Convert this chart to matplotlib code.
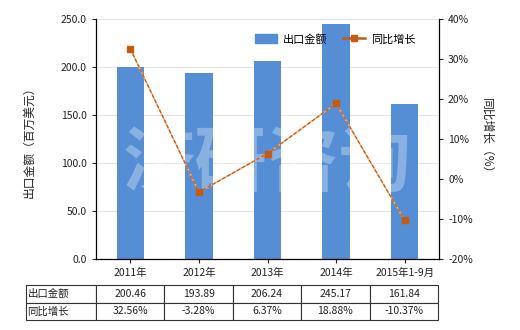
import matplotlib
matplotlib.use("Agg")
import matplotlib.pyplot as plt
from matplotlib.patches import Patch
from matplotlib.lines import Line2D

plt.rcParams['font.family'] = ['Noto Sans CJK SC', 'DejaVu Sans']

categories = ["2011年", "2012年", "2013年", "2014年", "2015年1-9月"]
export_value = [200.46, 193.89, 206.24, 245.17, 161.84]
yoy_growth = [32.56, -3.28, 6.37, 18.88, -10.37]
left_ticks = [0, 50, 100, 150, 200, 250]
right_ticks = [-20, -10, 0, 10, 20, 30, 40]

bar_color = "#558ED5"
line_color = "#C55A11"
line_light = "#F4B183"
text_color = "#222222"

fig = plt.figure(figsize=(5.2, 3.3), dpi=100)
ax = fig.add_axes([96 / 520, 1 - 259 / 330, 343 / 520, 240 / 330])
ax2 = ax.twinx()

x = list(range(len(categories)))
ax.bar(x, export_value, width=0.4, color=bar_color, zorder=2)
ax.set_xlim(-0.5, len(categories) - 0.5)
ax.set_ylim(0, 250)
ax.set_yticks(left_ticks)
ax.set_yticklabels([f"{v:.1f}" for v in left_ticks])
ax.set_xticks(x)
ax.set_xticklabels(categories)
ax.yaxis.grid(True, color="#e4e4e4", linewidth=0.8, zorder=0)
ax.set_axisbelow(True)

# growth line: light base with darker dashes on top
ax2.plot(x, yoy_growth, color=line_light, linewidth=1.1, zorder=3)
ax2.plot(x, yoy_growth, color=line_color, linewidth=0.9, linestyle="--",
         dashes=(3, 1.5), marker="s", markersize=4.5, zorder=3)
ax2.set_ylim(-20, 40)
ax2.set_yticks(right_ticks)
ax2.set_yticklabels([f"{v}%" for v in right_ticks])

for a in (ax, ax2):
    a.spines["top"].set_visible(False)
    a.tick_params(labelsize=7.5, colors=text_color, length=3, width=0.8)
ax.spines["right"].set_visible(False)
ax.spines["left"].set_linewidth(0.9)
ax.spines["bottom"].set_linewidth(0.9)
ax2.spines["left"].set_visible(False)
ax2.spines["bottom"].set_visible(False)
ax2.spines["right"].set_linewidth(0.9)

ax.set_ylabel("出口金额（百万美元）", fontsize=8.5, color=text_color, labelpad=18)
ax2.set_ylabel("同比增长（%）", fontsize=8.5, color=text_color, rotation=-90, labelpad=15)

# watermark
ax.text(0.5, 0.39, "济研咨询", transform=ax.transAxes, fontsize=52,
        color="white", alpha=0.3, ha="center", va="center", zorder=4,
        fontweight="bold")

handles = [Patch(color=bar_color),
           Line2D([0], [0], color=line_color, marker="s", markersize=4, linewidth=1.8)]
ax.legend(handles, ["出口金额", "同比增长"], loc="upper right", ncol=2, frameon=False,
          fontsize=8, bbox_to_anchor=(0.96, 0.98), handlelength=2.0, handleheight=0.9,
          columnspacing=1.4, handletextpad=0.5)

cell_text = [["出口金额"] + [f"{v:.2f}" for v in export_value],
             ["同比增长"] + [f"{v:.2f}%" for v in yoy_growth]]
first_w = 70 / 412
other_w = (1 - first_w) / len(categories)
tbl = ax.table(cellText=cell_text, colWidths=[first_w] + [other_w] * len(categories),
               bbox=[(26 - 96) / 343, -61 / 240, 412 / 343, 35 / 240],
               cellLoc="center")
tbl.auto_set_font_size(False)
for (r, c), cell in tbl.get_celld().items():
    cell.set_fontsize(7.5)
    cell.set_linewidth(0.8)
    cell.set_edgecolor("#333333")
    cell.get_text().set_color(text_color)
    if c == 0:
        cell.get_text().set_ha("left")
        cell.PAD = 0.02

fig.savefig("out.png", dpi=100)
